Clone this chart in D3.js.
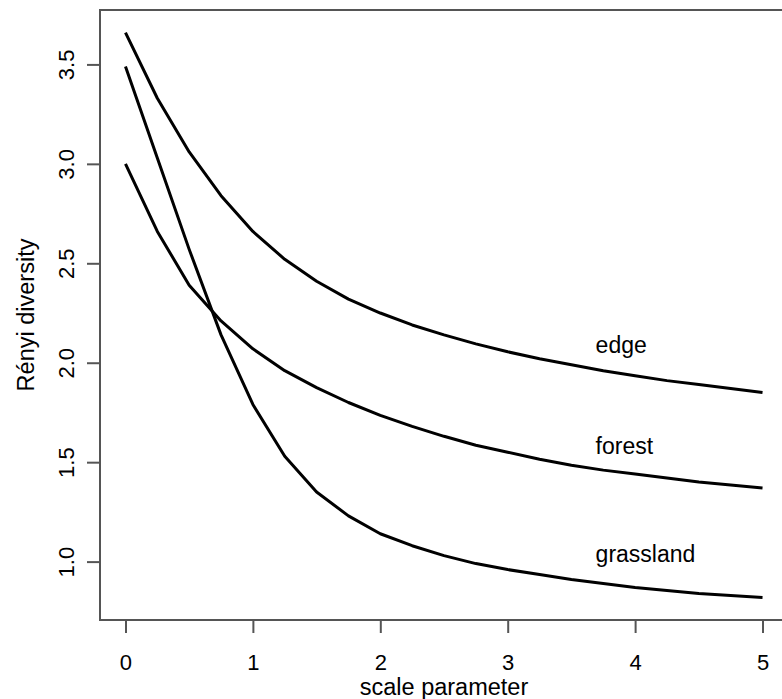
<!DOCTYPE html>
<html>
<head>
<meta charset="utf-8">
<script src="https://cdn.jsdelivr.net/npm/d3@7"></script>
<style>
  body { margin: 0; background: #fff; }
  text { font-family: "Liberation Sans", Arial, sans-serif; fill: #000; }
</style>
</head>
<body>
<div id="chart"></div>
<script>
"use strict";

// scale parameter (alpha) values
const scales = [0, 0.25, 0.5, 0.75, 1, 1.25, 1.5, 1.75, 2, 2.25, 2.5, 2.75, 3,
                3.25, 3.5, 3.75, 4, 4.25, 4.5, 4.75, 5];

// Renyi diversity per habitat
const edge = [3.66, 3.33, 3.06, 2.84, 2.66, 2.52, 2.41, 2.32, 2.25, 2.19, 2.14,
              2.095, 2.055, 2.02, 1.99, 1.96, 1.935, 1.91, 1.89, 1.87, 1.85];
const forest = [3.00, 2.66, 2.39, 2.21, 2.07, 1.96, 1.875, 1.80, 1.735, 1.68, 1.63,
                1.585, 1.55, 1.515, 1.485, 1.46, 1.44, 1.42, 1.40, 1.385, 1.37];
const grassland = [3.49, 3.03, 2.57, 2.14, 1.79, 1.53, 1.35, 1.23, 1.14, 1.08, 1.03,
                   0.99, 0.96, 0.935, 0.91, 0.89, 0.87, 0.855, 0.84, 0.83, 0.82];

const seriesNames = ["edge", "forest", "grassland"];
const seriesValues = [edge, forest, grassland];

const xTicks = [0, 1, 2, 3, 4, 5];
const yTicks = [1.0, 1.5, 2.0, 2.5, 3.0, 3.5];

const width = 782, height = 699;
const plotL = 100, plotT = 10, plotR = 788, plotB = 620;

// R style 4% axis extension
const xExt = (5 - 0) * 0.04;
const allY = seriesValues.flat();
const yMin = d3.min(allY), yMax = d3.max(allY);
const yExt = (yMax - yMin) * 0.04;

const x = d3.scaleLinear().domain([0 - xExt, 5 + xExt]).range([plotL, plotR]);
const y = d3.scaleLinear().domain([yMin - yExt, yMax + yExt]).range([plotB, plotT]);

const svg = d3.select("#chart").append("svg")
    .attr("width", width)
    .attr("height", height);

// plot frame
svg.append("rect")
    .attr("x", plotL).attr("y", plotT)
    .attr("width", plotR - plotL).attr("height", plotB - plotT)
    .attr("fill", "none")
    .attr("stroke", "#555")
    .attr("stroke-width", 2);

// axes
const xAxis = svg.append("g")
    .attr("transform", "translate(0," + plotB + ")")
    .call(d3.axisBottom(x).tickValues(xTicks).tickSize(13).tickPadding(22)
          .tickFormat(d3.format("d")));
const yAxis = svg.append("g")
    .attr("transform", "translate(" + plotL + ",0)")
    .call(d3.axisLeft(y).tickValues(yTicks).tickSize(13).tickFormat(d3.format(".1f")));

[xAxis, yAxis].forEach(g => {
    g.select(".domain").remove();
    g.selectAll(".tick line").attr("stroke", "#555").attr("stroke-width", 2);
    g.selectAll(".tick text").style("font-size", "22px").attr("fill", "#000")
        .style("font-family", "'Liberation Sans', Arial, sans-serif");
});

xAxis.selectAll(".tick text").attr("dy", null).attr("y", 50);

yAxis.selectAll(".tick text")
    .attr("x", null).attr("dy", null)
    .attr("text-anchor", "middle")
    .attr("transform", "translate(-26,0) rotate(-90)");

// curves
const line = d3.line()
    .x((d, i) => x(scales[i]))
    .y(d => y(d));

svg.append("g").selectAll("path")
    .data(seriesValues)
    .enter().append("path")
    .attr("d", line)
    .attr("fill", "none")
    .attr("stroke", "#000")
    .attr("stroke-width", 3)
    .attr("stroke-linejoin", "round");

// series labels
const labelX = 3.69;
const labelY = [2.05, 1.54, 1.0];
svg.append("g").selectAll("text")
    .data(seriesNames)
    .enter().append("text")
    .attr("x", x(labelX))
    .attr("y", (d, i) => y(labelY[i]))
    .style("font-size", "23px")
    .text(d => d);

// axis titles
svg.append("text")
    .attr("x", (plotL + plotR) / 2)
    .attr("y", 695)
    .attr("text-anchor", "middle")
    .style("font-size", "23.5px")
    .text("scale parameter");

svg.append("text")
    .attr("transform", "translate(34," + ((plotT + plotB) / 2) + ") rotate(-90)")
    .attr("text-anchor", "middle")
    .style("font-size", "23.5px")
    .text("Rényi diversity");
</script>
</body>
</html>
